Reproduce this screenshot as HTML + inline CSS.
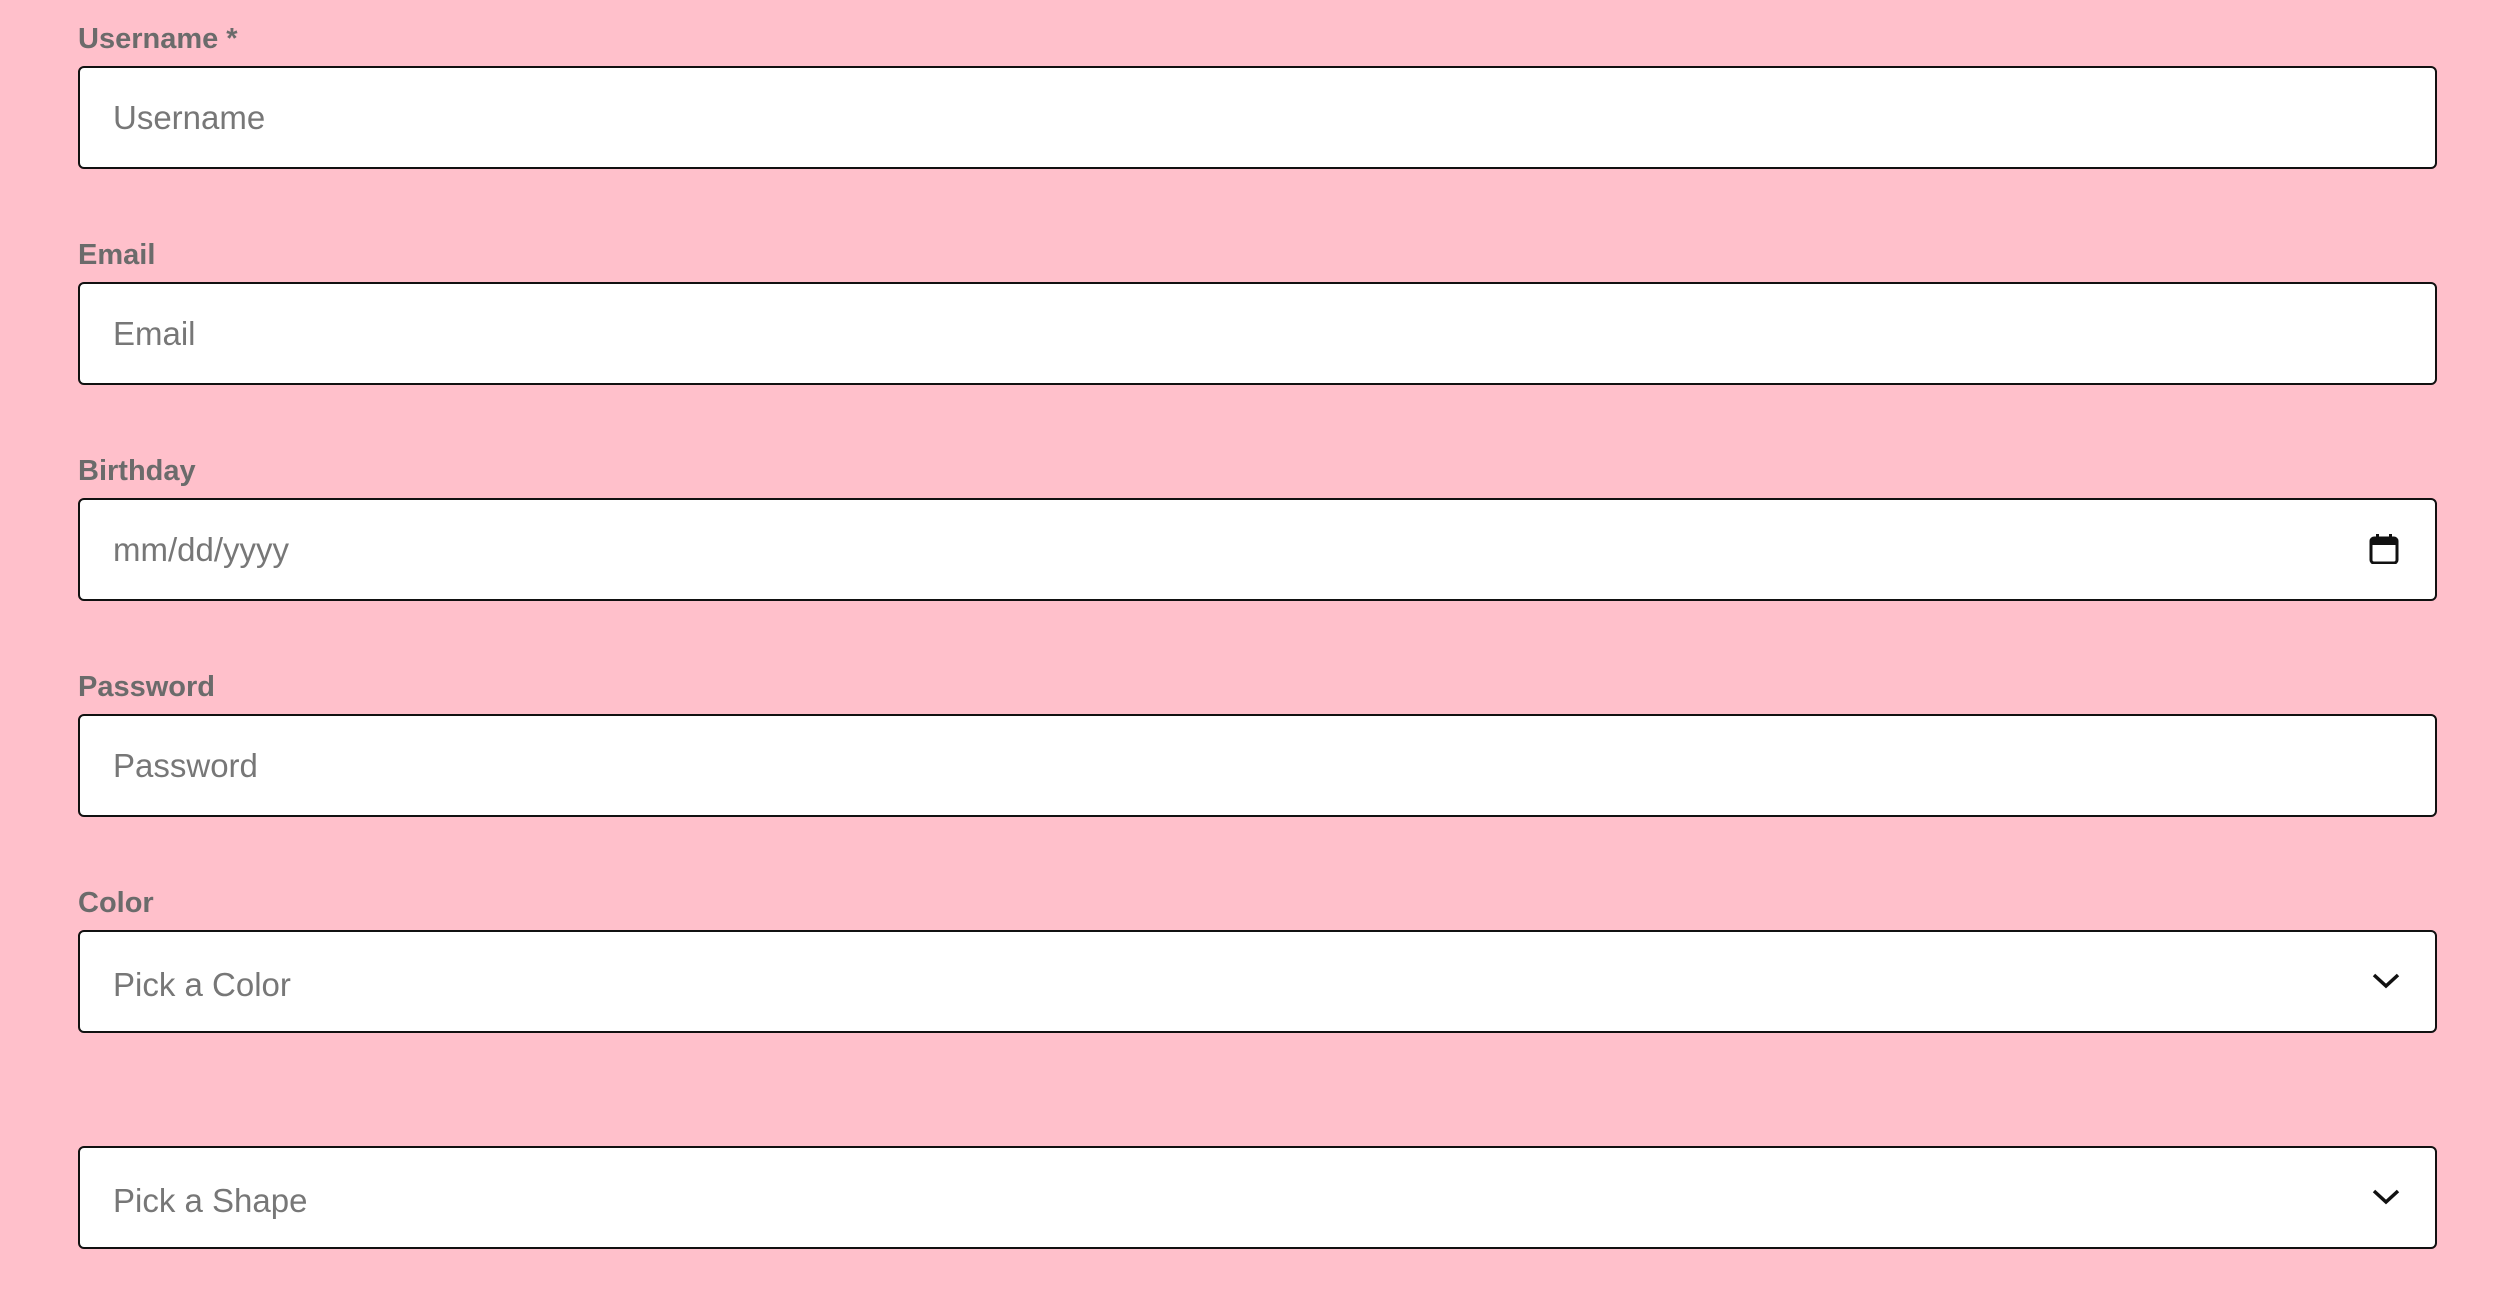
<!DOCTYPE html>
<html><head><meta charset="utf-8"><style>
html,body{margin:0;padding:0;width:2504px;height:1296px;background:#FFC0CB;overflow:hidden;font-family:"Liberation Sans",sans-serif}
.lbl{position:absolute;left:78px;font-size:29px;font-weight:bold;color:#6b6b6b;line-height:1}
.box{position:absolute;left:78px;width:2355px;height:99px;background:#fff;border:2px solid #111;border-radius:6px}
.ph{position:absolute;left:33px;top:33px;font-size:33px;color:#777;line-height:1}
.ic{position:absolute;right:34px;top:35px}
</style></head><body>
<div class="lbl" style="top:25px">Username *</div>
<div class="box" style="top:66px"><span class="ph">Username</span></div>
<div class="lbl" style="top:241px">Email</div>
<div class="box" style="top:282px"><span class="ph">Email</span></div>
<div class="lbl" style="top:457px">Birthday</div>
<div class="box" style="top:498px"><span class="ph">mm/dd/yyyy</span>
<svg class="ic" width="32" height="32" viewBox="0 0 32 32" style="right:36px;top:32px"><rect x="4" y="6" width="26" height="25" rx="3" fill="none" stroke="#111" stroke-width="3"/><rect x="4" y="6" width="26" height="7" fill="#111"/><rect x="9" y="2" width="3" height="6" fill="#111"/><rect x="22" y="2" width="3" height="6" fill="#111"/></svg></div>
<div class="lbl" style="top:673px">Password</div>
<div class="box" style="top:714px"><span class="ph">Password</span></div>
<div class="lbl" style="top:889px">Color</div>
<div class="box" style="top:930px"><span class="ph" style="top:36px">Pick a Color</span>
<svg class="ic" width="30" height="20" viewBox="0 0 30 20" style="top:39px"><path d="M3 4 L15 15 L27 4" fill="none" stroke="#111" stroke-width="3.5"/></svg></div>
<div class="box" style="top:1146px"><span class="ph" style="top:36px">Pick a Shape</span>
<svg class="ic" width="30" height="20" viewBox="0 0 30 20" style="top:39px"><path d="M3 4 L15 15 L27 4" fill="none" stroke="#111" stroke-width="3.5"/></svg></div>
</body></html>
